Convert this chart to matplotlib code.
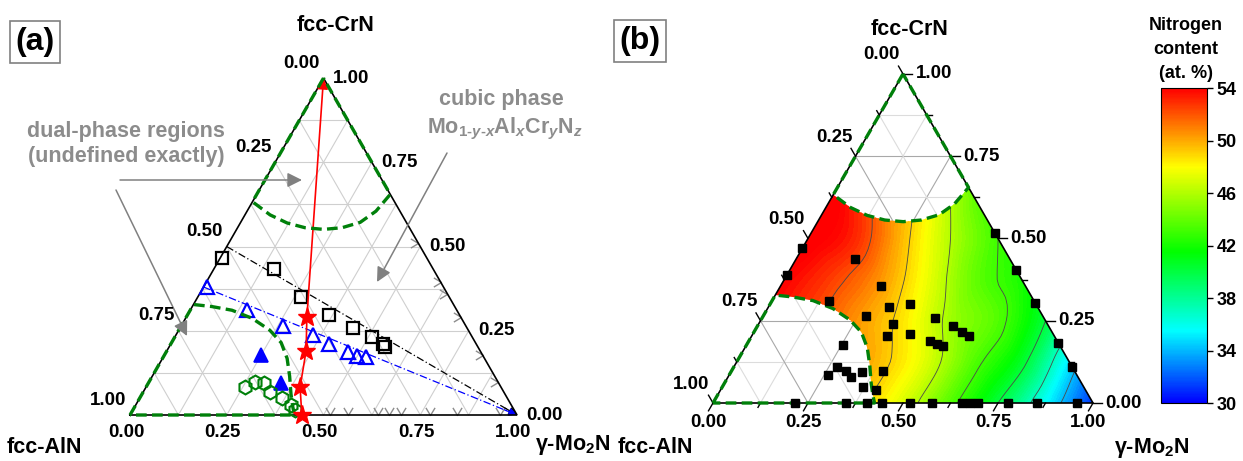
import numpy as np
import matplotlib
matplotlib.use("Agg")
import matplotlib.pyplot as plt
import matplotlib.tri as mtri
from matplotlib.colors import LinearSegmentedColormap, Normalize
from matplotlib.cm import ScalarMappable
from matplotlib.path import Path
from matplotlib.patches import PathPatch, FancyArrowPatch

plt.rcParams['font.family'] = ['Liberation Sans', 'DejaVu Sans']
plt.rcParams['font.weight'] = 'bold'
plt.rcParams['mathtext.fontset'] = 'custom'
plt.rcParams['mathtext.rm'] = 'Liberation Sans:bold'
plt.rcParams['mathtext.it'] = 'Liberation Sans:italic'
plt.rcParams['mathtext.bf'] = 'Liberation Sans:bold'

# ---------------------------------------------------------------------------
# compositions are given as (Mo2N fraction, CrN fraction); AlN = 1 - both
# ---------------------------------------------------------------------------
tick_values = [0.00, 0.25, 0.50, 0.75, 1.00]
tick_labels = ['0.00', '0.25', '0.50', '0.75', '1.00']

# panel (a): deposition series
sq_mo = [0.005, 0.156, 0.267, 0.366, 0.447, 0.510, 0.548, 0.558]
sq_cr = [0.466, 0.433, 0.350, 0.297, 0.258, 0.231, 0.211, 0.202]
tri_mo = [0.009, 0.146, 0.263, 0.354, 0.409, 0.470, 0.499, 0.524]
tri_cr = [0.380, 0.312, 0.264, 0.237, 0.211, 0.187, 0.175, 0.172]
trif_mo = [0.250, 0.343]
trif_cr = [0.178, 0.095]
hex_mo = [0.255, 0.274, 0.299, 0.328, 0.368, 0.401, 0.419]
hex_cr = [0.083, 0.098, 0.095, 0.068, 0.050, 0.030, 0.015]
star_mo = [0.444, 0.398, 0.360, 0.312]
star_cr = [0.000, 0.083, 0.190, 0.290]
# binary samples on the Mo-Cr edge and on the Mo-Al edge
edge_cr_right = [0.510, 0.395, 0.360, 0.290, 0.178, 0.098]
edge_mo_bottom = [0.517, 0.563, 0.640, 0.670, 0.700, 0.775, 0.845, 0.955]
# trend lines (start on the AlN-CrN edge, end at gamma-Mo2N)
sq_line_cr0 = 0.50
tri_line_cr0 = 0.38

# single-phase region boundaries
cap_mo = [0.000, 0.065, 0.121, 0.174, 0.225, 0.270, 0.309, 0.333, 0.345]
cap_cr = [0.633, 0.594, 0.570, 0.556, 0.551, 0.556, 0.572, 0.605, 0.655]
low_mo = [0.000, 0.050, 0.108, 0.172, 0.235, 0.283, 0.322, 0.355, 0.385, 0.408, 0.425]
low_cr = [0.328, 0.322, 0.311, 0.287, 0.252, 0.215, 0.168, 0.115, 0.062, 0.025, 0.000]

# panel (b): measured sample positions
pts_mo = [0.155, 0.264, 0.150, 0.317, 0.368, 0.271, 0.354, 0.455, 0.356, 0.413,
          0.515, 0.547, 0.572, 0.477, 0.500, 0.519, 0.399, 0.409,
          0.254, 0.272, 0.260, 0.302, 0.324, 0.345, 0.370,
          0.000, 0.000,
          0.483, 0.596, 0.696, 0.818, 0.891,
          0.216, 0.350, 0.405, 0.445, 0.518, 0.576, 0.655, 0.676, 0.697, 0.776, 0.853, 0.958]
pts_cr = [0.438, 0.356, 0.310, 0.292, 0.301, 0.264, 0.240, 0.258, 0.204, 0.210,
          0.234, 0.216, 0.204, 0.188, 0.179, 0.173, 0.097, 0.040,
          0.176, 0.109, 0.085, 0.097, 0.079, 0.094, 0.049,
          0.471, 0.389,
          0.517, 0.404, 0.304, 0.182, 0.109,
          0, 0, 0, 0, 0, 0, 0, 0, 0, 0, 0, 0]

# panel (b): nitrogen content (at.%) on a 1/8 composition grid, rows of constant CrN
grid_cr = [0.0] * 9 + [0.125] * 8 + [0.25] * 7 + [0.375] * 6 + [0.5] * 5 + [0.625] * 4 \
    + [0.75] * 3 + [0.875] * 2 + [1.0]
grid_mo = [0, .125, .25, .375, .5, .625, .75, .875, 1.0,
           0, .125, .25, .375, .5, .625, .75, .875,
           0, .125, .25, .375, .5, .625, .75,
           0, .125, .25, .375, .5, .625,
           0, .125, .25, .375, .5,
           0, .125, .25, .375,
           0, .125, .25,
           0, .125,
           0]
grid_n = [54.0, 53.0, 51.5, 49.5, 47.0, 43.5, 40.0, 35.5, 31.0,
          54.0, 53.0, 51.0, 49.5, 47.0, 43.5, 40.5, 35.0,
          54.0, 52.5, 50.5, 48.5, 45.5, 43.5, 40.0,
          54.0, 52.5, 50.5, 47.5, 44.0, 42.0,
          54.5, 53.0, 49.5, 46.0, 43.0,
          54.5, 51.5, 48.0, 44.0,
          54.0, 50.0, 46.0,
          52.0, 48.0,
          50.0]
n_ticks = [30, 34, 38, 42, 46, 50, 54]
n_lines = [34, 37, 40, 43, 46, 49, 52]
cbar_title = ['Nitrogen', 'content', '(at. %)']

SQ = np.sqrt(3) / 2
GREEN = '#00800a'
GRAY = '#8c8c8c'


def tern(m, c):
    m = np.asarray(m, float)
    c = np.asarray(c, float)
    return m + c / 2, c * SQ


fig = plt.figure(figsize=(12.43, 4.61), dpi=100)

# axes mapped so that one composition unit spans the triangle side
axa = fig.add_axes([0, 0, 621 / 1243, 1])
axa.set_xlim(-130 / 387, (621 - 130) / 387)
axa.set_ylim((415 - 461) / 389, 415 / 389)
axb = fig.add_axes([622 / 1243, 0, (1150 - 622) / 1243, 1])
axb.set_xlim((622 - 713) / 380, (1150 - 713) / 380)
axb.set_ylim((403 - 461) / 380, 403 / 380)
for ax in (axa, axb):
    ax.set_axis_off()


def pa(px, py):
    return (px - 130) / 387, (415 - py) / 389


def pb(px, py):
    return (px - 713) / 380, (403 - py) / 380


def draw_grid(ax, major_col, minor_col, lw=0.7):
    for k in range(1, 8):
        v = k / 8
        col = major_col if k % 2 == 0 else minor_col
        for seg in (tern([0, 1 - v], [v, v]), tern([v, v], [0, 1 - v]),
                    tern([v, 0], [0, v])):
            ax.plot(*seg, color=col, lw=lw, zorder=1)


def draw_frame(ax):
    x, y = tern([0, 1, 0, 0], [0, 0, 1, 0])
    ax.plot(x, y, color='black', lw=1.2, zorder=6, solid_joinstyle='miter')


def draw_regions(ax):
    # top cap: apex -> cap arc -> apex ; lower-left: AlN corner -> arc -> AlN corner
    cx, cy = tern([0] + cap_mo + [0], [1] + cap_cr + [1])
    lx, ly = tern([0] + low_mo + [0], [0] + low_cr + [0])
    for x, y in ((cx, cy), (lx, ly)):
        ax.plot(x, y, color=GREEN, lw=2.4, ls=(0, (3.2, 1.6)), zorder=8,
                dash_capstyle='butt')


def axis_labels(ax, bottom_off, left_off, right_off, size=13.5):
    k = 72 / 100  # pixels -> points
    for v, lab in zip(tick_values, tick_labels):
        ax.annotate(lab, tern(v, 0), xytext=(bottom_off[0] * k, -bottom_off[1] * k),
                    textcoords='offset points', ha='center', va='center',
                    fontsize=size, fontweight='bold', zorder=10)
        ax.annotate(lab, tern(0, 1 - v), xytext=(left_off[0] * k, -left_off[1] * k),
                    textcoords='offset points', ha='center', va='center',
                    fontsize=size, fontweight='bold', zorder=10)
        ax.annotate(lab, tern(1 - v, v), xytext=(right_off[0] * k, -right_off[1] * k),
                    textcoords='offset points', ha='left', va='center',
                    fontsize=size, fontweight='bold', zorder=10)


# ---------------------------- panel (a) ------------------------------------
draw_grid(axa, '#cfcfcf', '#cfcfcf', lw=0.8)
draw_frame(axa)
draw_regions(axa)

# binary edge samples
v_path = Path([(-0.6, 1.0), (0, 0), (0.6, 1.0)], [Path.MOVETO, Path.LINETO, Path.LINETO])
r_path = Path([(-1.0, 0.6), (0, 0), (-1.0, -0.6)], [Path.MOVETO, Path.LINETO, Path.LINETO])
axa.plot(*tern(np.subtract(1, edge_cr_right), edge_cr_right), ls='none', marker=r_path,
         ms=11, mfc='none', mec=GRAY, mew=1.0, zorder=4)
axa.plot(*tern(edge_mo_bottom, np.zeros(len(edge_mo_bottom))), ls='none', marker=v_path,
         ms=11, mfc='none', mec=GRAY, mew=1.0, zorder=4)

# dash-dot trend lines ending in arrows at gamma-Mo2N
for c0, col in ((sq_line_cr0, 'black'), (tri_line_cr0, 'blue')):
    x0, y0 = tern(0, c0)
    x1, y1 = tern(1, 0)
    axa.plot([x0, x1], [y0, y1], color=col, lw=0.9, ls=(0, (6, 2, 1, 2)), zorder=5)
    f = 0.96
    axa.annotate('', xy=(x1, y1), xytext=(x0 + f * (x1 - x0), y0 + f * (y1 - y0)),
                 arrowprops=dict(arrowstyle='-|>', color=col, lw=0.9,
                                 mutation_scale=12, shrinkA=0, shrinkB=0), zorder=5)

axa.plot(*tern(sq_mo, sq_cr), ls='none', marker='s', ms=8.5, mfc='none',
         mec='black', mew=1.6, zorder=7)
axa.plot(*tern(tri_mo, tri_cr), ls='none', marker='^', ms=10.5, mfc='none',
         mec='blue', mew=1.6, zorder=7)
axa.plot(*tern(trif_mo, trif_cr), ls='none', marker='^', ms=10.5, mfc='blue',
         mec='blue', mew=1.2, zorder=7)
axa.plot(*tern(hex_mo, hex_cr), ls='none', marker='h', ms=10, mfc='none',
         mec=GREEN, mew=1.5, zorder=7)

# red series: stars joined by a line that continues to fcc-CrN
sx, sy = tern(star_mo, star_cr)
axa.plot(sx, sy, color='red', lw=1.2, zorder=7)
axa.annotate('', xy=tern(0, 1), xytext=(sx[-1], sy[-1]),
             arrowprops=dict(arrowstyle='-|>', color='red', lw=1.2,
                             mutation_scale=16, shrinkA=0, shrinkB=0), zorder=7)
axa.plot(sx, sy, ls='none', marker='*', ms=14, mfc='red', mec='red', zorder=9)

axis_labels(axa, bottom_off=(-4, 17), left_off=(-22, -15), right_off=(9.5, 0))
axa.text(*pa(336, 25), 'fcc-CrN', fontsize=15.5, fontweight='bold', ha='center', va='center')
axa.text(*pa(44, 447), 'fcc-AlN', fontsize=15.5, fontweight='bold', ha='center', va='center')
axa.text(*pa(573, 445), 'γ-Mo$_2$N', fontsize=15.5, fontweight='bold', ha='center', va='center')
axa.text(*pa(35, 42), '(a)', fontsize=23, fontweight='bold', ha='center', va='center',
         bbox=dict(boxstyle='square,pad=0.18', fc='white', ec='#808080', lw=1.2))

axa.text(*pa(126, 144), 'dual-phase regions\n(undefined exactly)', fontsize=15.5,
         fontweight='bold', color=GRAY, ha='center', va='center', linespacing=1.3)
axa.text(*pa(501, 100), 'cubic phase', fontsize=15.5, fontweight='bold', color=GRAY,
         ha='center', va='center')
axa.text(*pa(505, 129), r'Mo$_{1\text{-}y\text{-}x}$Al$_{x}$Cr$_{y}$N$_{z}$', fontsize=15.5,
         fontweight='bold', color=GRAY, ha='center', va='center')

for start, end in ((pa(120, 180), pa(302, 180)), (pa(116, 190), pa(187, 336)),
                   (pa(447, 153), pa(377, 282))):
    axa.add_patch(FancyArrowPatch(start, end, arrowstyle='-|>', mutation_scale=22,
                                  color='#808080', lw=1.1, shrinkA=0, shrinkB=0, zorder=9))

# ---------------------------- panel (b) ------------------------------------
draw_grid(axb, '#a8a8a8', '#dcdcdc', lw=0.8)

cmap = LinearSegmentedColormap.from_list(
    'nitrogen', [(0.0, (0, 0, 1)), (5.5 / 24, (0, 1, 1)), (11.5 / 24, (0, 1, 0)),
                 (18 / 24, (1, 1, 0)), (1.0, (1, 0, 0))])
norm = Normalize(30, 54)

gx, gy = tern(grid_mo, grid_cr)
tri = mtri.Triangulation(gx, gy)
interp = mtri.CubicTriInterpolator(tri, np.asarray(grid_n), kind='geom')
tri_f, n_f = mtri.UniformTriRefiner(tri).refine_field(np.asarray(grid_n), interp, subdiv=3)

cx, cy = tern(cap_mo, cap_cr)
lx, ly = tern(low_mo, low_cr)
region_x = np.concatenate([lx, tern(1, 0)[0][None], cx[::-1]])
region_y = np.concatenate([ly, tern(1, 0)[1][None], cy[::-1]])
clip = PathPatch(Path(np.column_stack([region_x, region_y]), closed=False),
                 transform=axb.transData, fc='none', ec='none')

cf = axb.tricontourf(tri_f, np.clip(n_f, 29.5, 55), levels=np.linspace(29.5, 55, 103),
                     cmap=cmap, norm=norm, zorder=2)
cf.set_clip_path(clip)
cl = axb.tricontour(tri_f, n_f, levels=n_lines, colors='#4a4a4a', linewidths=0.6, zorder=3)
cl.set_clip_path(clip)

draw_frame(axb)
draw_regions(axb)

# outward ticks along each axis direction
px_unit = 1 / 380
for k in range(9):
    v = k / 8
    L = (9 if k % 2 == 0 else 5) * px_unit
    x, y = tern(v, 0)
    axb.plot([x, x - 0.5 * L], [y, y - SQ * L], color='black', lw=1.0, zorder=6)
    x, y = tern(0, 1 - v)
    axb.plot([x, x - 0.5 * L], [y, y + SQ * L], color='black', lw=1.0, zorder=6)
    x, y = tern(1 - v, v)
    axb.plot([x, x + L], [y, y], color='black', lw=1.0, zorder=6)

axb.plot(*tern(pts_mo, pts_cr), ls='none', marker='s', ms=6, mfc='black', mec='black',
         zorder=9)

axis_labels(axb, bottom_off=(-5, 19), left_off=(-21.5, -19), right_off=(12.5, 0))
axb.text(*pb(910, 29), 'fcc-CrN', fontsize=15.5, fontweight='bold', ha='center', va='center')
axb.text(*pb(655, 447), 'fcc-AlN', fontsize=15.5, fontweight='bold', ha='center', va='center')
axb.text(*pb(1152, 448), 'γ-Mo$_2$N', fontsize=15.5, fontweight='bold', ha='center',
         va='center')
axb.text(*pb(640, 41), '(b)', fontsize=23, fontweight='bold', ha='center', va='center',
         bbox=dict(boxstyle='square,pad=0.18', fc='white', ec='#808080', lw=1.2))

# colour bar
cax = fig.add_axes([1161 / 1243, (461 - 403) / 461, 46 / 1243, 315 / 461])
cb = fig.colorbar(ScalarMappable(norm=norm, cmap=cmap), cax=cax, ticks=n_ticks)
cb.outline.set_linewidth(0.8)
cax.tick_params(length=4, width=1, labelsize=13, pad=3)
for t in cax.get_yticklabels():
    t.set_fontweight('bold')
for i, line in enumerate(cbar_title):
    fig.text(1186 / 1243, 1 - (26 + 23.5 * i) / 461, line, fontsize=13,
             fontweight='bold', ha='center', va='center')

fig.savefig('out.png', dpi=100)
